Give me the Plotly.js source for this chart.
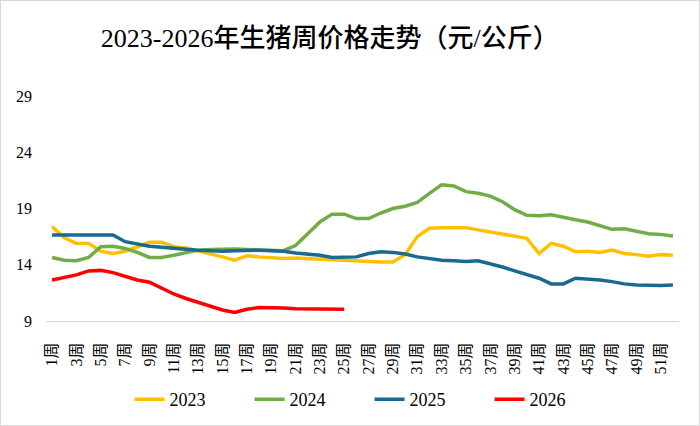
<!DOCTYPE html>
<html>
<head>
<meta charset="utf-8">
<script src="https://cdn.plot.ly/plotly-3.0.1.min.js"></script>
<style>
  html, body { margin: 0; padding: 0; background: #fff; }
  #chart { width: 700px; height: 426px; box-sizing: border-box; border: 1px solid #d9d9d9; }
</style>
</head>
<body>
<div id="chart"></div>
<script>
// 1周 .. 52周
const weeks = Array.from({ length: 52 }, (_, i) => (i + 1) + '周');
const tickWeeks = weeks.filter((_, i) => i % 2 === 0);

const price2023 = [17.4, 16.4, 15.9, 15.9, 15.2, 15.0, 15.2, 15.6, 16.0, 16.0,
                   15.6, 15.5, 15.25, 15.0, 14.7, 14.4, 14.8, 14.7, 14.6, 14.55,
                   14.6, 14.55, 14.5, 14.4, 14.4, 14.35, 14.3, 14.25, 14.25, 14.9,
                   16.5, 17.25, 17.3, 17.3, 17.3, 17.1, 16.9, 16.7, 16.55, 16.35,
                   15.0, 15.9, 15.65, 15.15, 15.2, 15.1, 15.3, 15.0, 14.9, 14.75,
                   14.9, 14.85];
const price2024 = [14.65, 14.4, 14.35, 14.65, 15.6, 15.65, 15.45, 15.1, 14.65, 14.65,
                   14.85, 15.1, 15.3, 15.35, 15.4, 15.4, 15.35, 15.3, 15.25, 15.25,
                   15.7, 16.8, 17.8, 18.5, 18.5, 18.1, 18.1, 18.6, 19.0, 19.2,
                   19.55, 20.35, 21.1, 21.0, 20.5, 20.35, 20.1, 19.6, 18.9, 18.4,
                   18.35, 18.45, 18.2, 18.0, 17.8, 17.5, 17.15, 17.2, 17.0, 16.75,
                   16.7, 16.55];
const price2025 = [16.65, 16.65, 16.65, 16.65, 16.65, 16.65, 16.05, 15.85, 15.65, 15.55,
                   15.45, 15.4, 15.3, 15.25, 15.2, 15.25, 15.3, 15.3, 15.25, 15.2,
                   15.05, 14.95, 14.85, 14.65, 14.65, 14.7, 15.0, 15.15, 15.1, 14.95,
                   14.7, 14.55, 14.4, 14.35, 14.3, 14.35, 14.1, 13.8, 13.45, 13.15,
                   12.8, 12.3, 12.3, 12.8, 12.75, 12.65, 12.5, 12.3, 12.2, 12.15,
                   12.15, 12.2];
const price2026 = [12.65, 12.9, 13.1, 13.45, 13.5, 13.3, 12.95, 12.65, 12.45, 11.9,
                   11.4, 11.0, 10.65, 10.35, 9.98, 9.75, 10.05, 10.2, 10.2, 10.15,
                   10.1, 10.1, 10.1, 10.05, 10.05];

const yTicks = [9, 14, 19, 24, 29];

const series = [
    { name: '2023', y: price2023, color: '#FFC000' },
    { name: '2024', y: price2024, color: '#70AD47' },
    { name: '2025', y: price2025, color: '#186A92' },
    { name: '2026', y: price2026, color: '#FF0000' }
];

const serif = 'Liberation Serif, Noto Sans CJK SC, serif';

const traces = series.map(s => ({
    x: weeks.slice(0, s.y.length),
    y: s.y,
    name: s.name,
    type: 'scatter',
    mode: 'lines',
    line: { color: s.color, width: 3.5 },
    hoverinfo: 'x+y+name'
}));

const layout = {
    width: 698,
    height: 424,
    paper_bgcolor: '#fff',
    plot_bgcolor: '#fff',
    margin: { l: 45, r: 20, t: 95, b: 104 },
    title: {
        text: '2023-2026年生猪周价格走势（元/公斤）',
        font: { family: serif, size: 26, color: '#000', weight: 500 },
        x: 0.471,
        xanchor: 'center',
        y: 0.913,
        yanchor: 'middle'
    },
    xaxis: {
        type: 'category',
        categoryorder: 'array',
        categoryarray: weeks,
        range: [-0.5, 51.5],
        tickvals: tickWeeks,
        ticktext: tickWeeks,
        tickangle: -90,
        tickfont: { family: serif, size: 16, color: '#000' },
        ticklabelstandoff: 14,
        showgrid: false,
        showline: true,
        linecolor: '#d9d9d9',
        linewidth: 1,
        ticks: '',
        zeroline: false,
        automargin: false
    },
    yaxis: {
        range: [9, 29],
        tickvals: yTicks,
        tickfont: { family: serif, size: 16, color: '#000' },
        showgrid: false,
        showline: false,
        zeroline: false,
        ticks: '',
        ticklabelstandoff: 13,
        automargin: false
    },
    showlegend: true,
    legend: {
        orientation: 'h',
        x: 0.132,
        xanchor: 'left',
        yref: 'container',
        y: 0.06,
        yanchor: 'middle',
        font: { family: serif, size: 18, color: '#000' },
        entrywidth: 75,
        entrywidthmode: 'pixels',
        traceorder: 'normal'
    }
};

Plotly.newPlot('chart', traces, layout, { displayModeBar: false, responsive: false });
</script>
</body>
</html>
